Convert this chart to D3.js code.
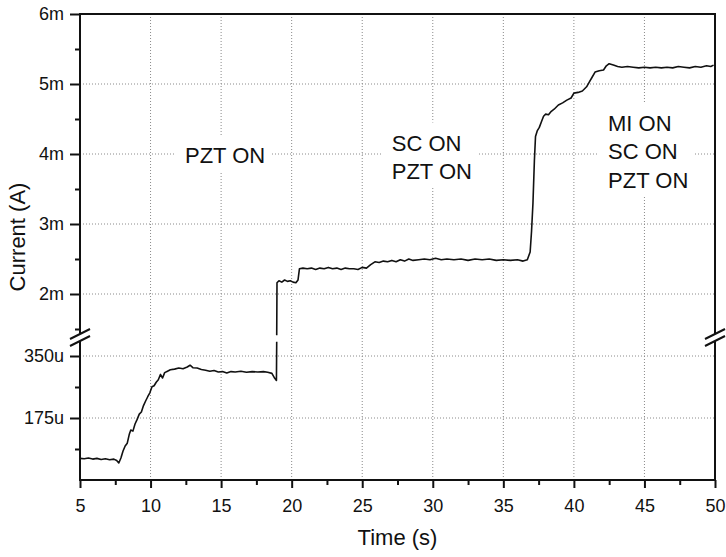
<!DOCTYPE html>
<html>
<head>
<meta charset="utf-8">
<script src="https://cdn.jsdelivr.net/npm/d3@7"></script>
<style>
  body { margin: 0; background: #fff; }
  svg { display: block; font-family: "Liberation Sans", Arial, sans-serif; }
</style>
</head>
<body>
<svg id="chart" width="726" height="557"></svg>
<script>
// time axis (s)
const timeTicks = [5, 10, 15, 20, 25, 30, 35, 40, 45, 50];
const timeMinor = [7.5, 12.5, 17.5, 22.5, 27.5, 32.5, 37.5, 42.5, 47.5];
// broken current axis: lower part in uA, upper part in mA
const lowTicks = [175, 350];
const lowMinor = [87.5, 262.5];
const highTicks = [2, 3, 4, 5, 6];
const highMinor = [1.5, 2.5, 3.5, 4.5, 5.5];

// trace below the break: [time s, current uA]
const lowTrace = [
  [5.0, 61], [5.3, 60], [5.6, 62], [5.9, 59], [6.2, 61], [6.5, 58], [6.8, 60], [7.1, 57],
  [7.4, 59], [7.6, 55], [7.75, 48], [7.9, 62], [8.05, 82], [8.2, 96], [8.35, 104], [8.5, 130],
  [8.6, 141], [8.75, 138], [8.9, 158], [9.05, 171], [9.2, 186], [9.35, 192], [9.5, 210],
  [9.65, 223], [9.8, 235], [9.95, 246], [10.1, 263], [10.25, 266], [10.4, 276], [10.55, 283],
  [10.7, 298], [10.85, 288], [11.0, 303], [11.2, 307], [11.4, 311], [11.7, 313], [12.0, 316],
  [12.3, 314], [12.6, 319], [12.8, 324], [13.0, 317], [13.3, 316], [13.6, 312], [13.9, 310],
  [14.2, 307], [14.5, 309], [14.8, 305], [15.1, 306], [15.4, 302], [15.7, 306], [16.0, 305],
  [16.4, 307], [16.8, 304], [17.2, 306], [17.6, 305], [18.0, 306], [18.3, 304], [18.6, 301],
  [18.8, 287], [18.92, 281], [18.94, 390]
];

// trace above the break: [time s, current mA]
const highTrace = [
  [18.94, 1.41], [18.96, 2.16], [19.1, 2.19], [19.3, 2.17], [19.5, 2.2], [19.7, 2.18],
  [19.9, 2.19], [20.1, 2.17], [20.3, 2.16], [20.45, 2.2], [20.55, 2.36], [20.8, 2.37],
  [21.1, 2.36], [21.4, 2.37], [21.7, 2.35], [22.0, 2.37], [22.3, 2.36], [22.6, 2.38],
  [22.9, 2.36], [23.2, 2.37], [23.5, 2.35], [23.8, 2.37], [24.1, 2.36], [24.4, 2.36],
  [24.7, 2.35], [25.0, 2.38], [25.3, 2.37], [25.6, 2.42], [25.9, 2.46], [26.2, 2.45],
  [26.5, 2.47], [26.8, 2.46], [27.1, 2.48], [27.4, 2.46], [27.7, 2.49], [28.0, 2.47],
  [28.3, 2.5], [28.6, 2.48], [29.0, 2.49], [29.4, 2.5], [29.8, 2.49], [30.2, 2.51],
  [30.6, 2.49], [31.0, 2.5], [31.5, 2.49], [32.0, 2.5], [32.5, 2.48], [33.0, 2.5],
  [33.5, 2.49], [34.0, 2.5], [34.5, 2.48], [35.0, 2.49], [35.5, 2.48], [36.0, 2.49],
  [36.4, 2.47], [36.7, 2.49], [36.9, 2.6], [37.0, 2.9], [37.1, 3.3], [37.2, 3.9],
  [37.28, 4.25], [37.4, 4.33], [37.55, 4.38], [37.7, 4.46], [37.85, 4.54], [38.0, 4.57],
  [38.2, 4.56], [38.4, 4.61], [38.6, 4.64], [38.9, 4.7], [39.2, 4.73], [39.5, 4.77],
  [39.8, 4.8], [40.0, 4.87], [40.3, 4.88], [40.6, 4.9], [40.9, 4.96], [41.1, 5.03],
  [41.3, 5.1], [41.5, 5.17], [41.8, 5.19], [42.1, 5.2], [42.3, 5.26], [42.5, 5.29],
  [42.8, 5.27], [43.1, 5.25], [43.4, 5.24], [43.8, 5.25], [44.2, 5.24], [44.6, 5.23],
  [45.0, 5.24], [45.4, 5.23], [45.8, 5.24], [46.2, 5.23], [46.6, 5.24], [47.0, 5.23],
  [47.4, 5.25], [47.8, 5.24], [48.2, 5.23], [48.6, 5.25], [49.0, 5.24], [49.4, 5.26],
  [49.7, 5.25], [49.9, 5.27]
];

// annotation text: lines, left edge time, first baseline current (mA)
const notes = [
  {lines: ["PZT ON"], t: 12.44, mA: 3.87},
  {lines: ["SC ON", "PZT ON"], t: 27.09, mA: 4.05},
  {lines: ["MI ON", "SC ON", "PZT ON"], t: 42.42, mA: 4.33}
];

const plotL = 80, plotR = 715, plotT = 14, plotB = 480, breakY = 338;

const svg = d3.select("#chart");

const x = d3.scaleLinear().domain([5, 50]).range([plotL, plotR]);
const yLow = d3.scaleLinear().domain([0, 350]).range([plotB, 356]);
const yHigh = d3.scaleLinear().domain([2, 6]).range([294, plotT]);

// grid
const grid = svg.append("g")
  .attr("stroke", "#8a8a8a")
  .attr("stroke-width", 1)
  .attr("stroke-dasharray", "1,2");
grid.selectAll("line.v").data(timeTicks.slice(1, -1)).join("line")
  .attr("x1", d => x(d)).attr("x2", d => x(d))
  .attr("y1", plotT).attr("y2", plotB);
grid.selectAll("line.hh").data(highTicks.slice(0, -1)).join("line")
  .attr("x1", plotL).attr("x2", plotR)
  .attr("y1", d => yHigh(d)).attr("y2", d => yHigh(d));
grid.selectAll("line.hl").data(lowTicks).join("line")
  .attr("x1", plotL).attr("x2", plotR)
  .attr("y1", d => yLow(d)).attr("y2", d => yLow(d));

// annotations with white boxes
notes.forEach(n => {
  const g = svg.append("g");
  const txt = g.append("text")
    .attr("x", x(n.t))
    .attr("y", yHigh(n.mA))
    .attr("font-size", 22)
    .attr("fill", "#111");
  n.lines.forEach((s, i) => {
    txt.append("tspan").attr("x", x(n.t)).attr("dy", i === 0 ? 0 : 28.5).text(s);
  });
  const bb = txt.node().getBBox();
  g.insert("rect", "text")
    .attr("x", bb.x - 10).attr("y", bb.y - 8)
    .attr("width", bb.width + 16).attr("height", bb.height + 12)
    .attr("fill", "#fff");
});

// trace
const lineLow = d3.line().x(d => x(d[0])).y(d => yLow(d[1]));
const lineHigh = d3.line().x(d => x(d[0])).y(d => yHigh(d[1]));
svg.append("path").datum(lowTrace).attr("d", lineLow)
  .attr("fill", "none").attr("stroke", "#111").attr("stroke-width", 1.6)
  .attr("stroke-linejoin", "round");
svg.append("path").datum(highTrace).attr("d", lineHigh)
  .attr("fill", "none").attr("stroke", "#111").attr("stroke-width", 1.6)
  .attr("stroke-linejoin", "round");

// axes
const fs = 18;
svg.append("g").attr("transform", `translate(0,${plotB})`)
  .call(d3.axisBottom(x).tickValues(timeTicks).tickSize(8).tickPadding(11).tickFormat(d3.format("d")));
svg.append("g").attr("transform", `translate(0,${plotB})`)
  .call(d3.axisBottom(x).tickValues(timeMinor).tickSize(5).tickFormat(""));
svg.append("g").attr("transform", `translate(${plotL},0)`)
  .call(d3.axisLeft(yHigh).tickValues(highTicks).tickSize(10).tickPadding(6).tickFormat(d => d + "m"));
svg.append("g").attr("transform", `translate(${plotL},0)`)
  .call(d3.axisLeft(yHigh).tickValues(highMinor).tickSize(5).tickFormat(""));
svg.append("g").attr("transform", `translate(${plotL},0)`)
  .call(d3.axisLeft(yLow).tickValues(lowTicks).tickSize(10).tickPadding(6).tickFormat(d => d + "u"));
svg.append("g").attr("transform", `translate(${plotL},0)`)
  .call(d3.axisLeft(yLow).tickValues(lowMinor).tickSize(5).tickFormat(""));

svg.selectAll(".domain").remove();
svg.selectAll(".tick line").attr("stroke", "#111").attr("stroke-width", 2);
svg.selectAll(".tick text").attr("font-size", fs).attr("fill", "#111")
  .attr("font-family", "Liberation Sans, Arial, sans-serif");

// frame
svg.append("rect")
  .attr("x", plotL).attr("y", plotT)
  .attr("width", plotR - plotL).attr("height", plotB - plotT)
  .attr("fill", "none").attr("stroke", "#111").attr("stroke-width", 2);

// axis break marks
[plotL, plotR].forEach(ax => {
  const g = svg.append("g").attr("transform", `translate(${ax},${breakY})`);
  g.append("polygon").attr("points", "-10,1 10,-9 10,-2 -10,8").attr("fill", "#fff");
  g.append("line").attr("x1", -10).attr("y1", 1).attr("x2", 10).attr("y2", -9)
    .attr("stroke", "#111").attr("stroke-width", 2);
  g.append("line").attr("x1", -10).attr("y1", 8).attr("x2", 10).attr("y2", -2)
    .attr("stroke", "#111").attr("stroke-width", 2);
});

// axis titles
svg.append("text")
  .attr("x", (plotL + plotR) / 2).attr("y", 545)
  .attr("text-anchor", "middle").attr("font-size", 22).attr("fill", "#111")
  .text("Time (s)");
svg.append("text")
  .attr("transform", "translate(25,237) rotate(-90)")
  .attr("text-anchor", "middle").attr("font-size", 22).attr("fill", "#111")
  .text("Current (A)");
</script>
</body>
</html>
